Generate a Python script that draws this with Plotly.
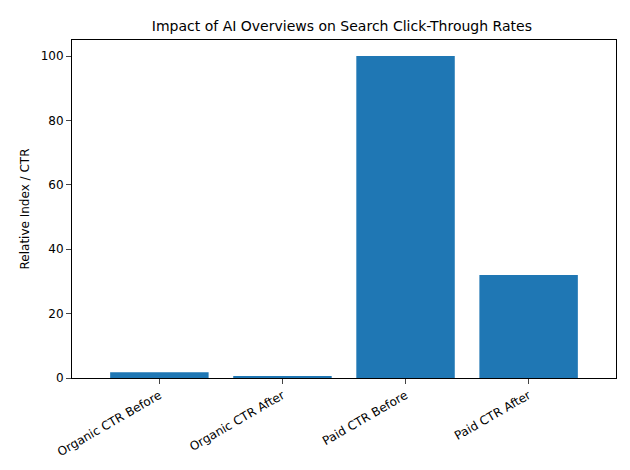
import plotly.graph_objects as go

categories = ["Organic CTR Before", "Organic CTR After", "Paid CTR Before", "Paid CTR After"]
values = [1.8, 0.6, 100, 32]

fig = go.Figure(go.Bar(x=categories, y=values, marker_color="#1f77b4", marker_line_width=0, width=0.8))
fig.update_layout(
    width=630, height=470, plot_bgcolor="white", paper_bgcolor="white",
    margin=dict(l=64, r=22, t=32, b=100, autoexpand=False),
    font=dict(family="DejaVu Sans", size=12, color="black"),
    title=dict(text="Impact of AI Overviews on Search Click-Through Rates", x=0.53, xanchor="center",
               y=0.962, yanchor="middle", font=dict(size=14)),
    showlegend=False,
)
fig.update_xaxes(showline=True, linecolor="black", mirror=True, ticks="outside", tickangle=-30,
                 range=[-0.71, 3.71], showgrid=False, automargin=False)
fig.update_yaxes(showline=True, linecolor="black", mirror=True, ticks="outside", range=[0, 105],
                 tickvals=[0, 20, 40, 60, 80, 100], showgrid=False, zeroline=False, automargin=False,
                 title=dict(text="Relative Index / CTR", font=dict(size=12), standoff=8))
fig.write_html("out.html")
